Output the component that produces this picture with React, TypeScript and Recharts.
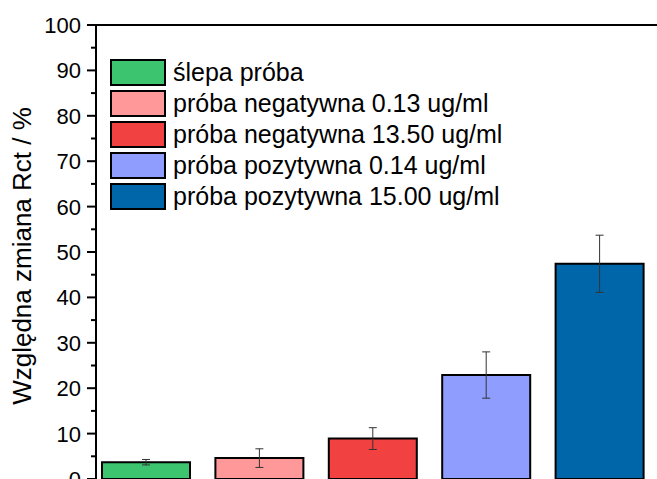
import React from 'react';
import { BarChart, Bar, XAxis, YAxis, Cell, ErrorBar, Legend, ReferenceLine, Label } from 'recharts';

const categories = [
  'ślepa próba',
  'próba negatywna 0.13 ug/ml',
  'próba negatywna 13.50 ug/ml',
  'próba pozytywna 0.14 ug/ml',
  'próba pozytywna 15.00 ug/ml',
];
const values = [3.7, 4.6, 8.9, 22.9, 47.4];
const errors = [0.6, 2.05, 2.4, 5.1, 6.3];
const colors = ['#3DC46F', '#FF9999', '#F24141', '#8F9DFF', '#0066AA'];
const yTicks = [0, 5, 10, 15, 20, 25, 30, 35, 40, 45, 50, 55, 60, 65, 70, 75, 80, 85, 90, 95, 100];
const yLabel = 'Względna zmiana Rct / %';

const FONT = '"Liberation Sans", Arial, sans-serif';
const AXIS_X = 96;

const data = categories.map((name, i) => ({ name, value: values[i], err: errors[i] }));

const YTick = (props: any) => {
  const { y, payload } = props;
  const v = payload.value;
  const major = v % 10 === 0;
  return (
    <g>
      <line x1={AXIS_X - (major ? 9 : 5)} x2={AXIS_X} y1={y} y2={y} stroke="#000" strokeWidth={2} />
      {major && (
        <text x={AXIS_X - 15} y={y} textAnchor="end" dy="0.36em" fontSize={22} fontFamily={FONT} fill="#000">
          {v}
        </text>
      )}
    </g>
  );
};

const YLabel = (props: any) => {
  const vb = props.viewBox || { x: 0, y: 25, width: 96, height: 454 };
  const cx = vb.x + 31;
  const cy = vb.y + vb.height / 2 + 4;
  return (
    <text
      transform={`translate(${cx},${cy}) rotate(-90)`}
      textAnchor="middle"
      fontSize={26}
      fontFamily={FONT}
      fill="#000"
    >
      {yLabel}
    </text>
  );
};

const LegendBox = () => (
  <div style={{ fontFamily: FONT, fontSize: 25, color: '#000' }}>
    {categories.map((c, i) => (
      <div key={c} style={{ display: 'flex', alignItems: 'center', height: 31 }}>
        <span
          style={{
            width: 56,
            height: 27,
            boxSizing: 'border-box',
            background: colors[i],
            border: '2px solid #000',
            display: 'inline-block',
          }}
        />
        <span style={{ marginLeft: 7, whiteSpace: 'nowrap', lineHeight: '31px' }}>{c}</span>
      </div>
    ))}
  </div>
);

export default function App() {
  return (
    <div style={{ position: 'absolute', left: 0, top: 0, background: '#fff' }}>
      <BarChart width={657} height={479} data={data} margin={{ top: 25, right: 0, bottom: 0, left: 0 }}>
        <XAxis
          dataKey="name"
          tick={false}
          tickLine={false}
          height={0}
          axisLine={{ stroke: '#000', strokeWidth: 2 }}
          padding={{ left: -7, right: 1 }}
        />
        <YAxis
          width={96}
          domain={[0, 100]}
          ticks={yTicks}
          interval={0}
          tickLine={false}
          tick={<YTick />}
          axisLine={{ stroke: '#000', strokeWidth: 2 }}
        >
          <Label content={<YLabel />} />
        </YAxis>
        <ReferenceLine y={100} stroke="#000" strokeWidth={2} />
        <Legend
          layout="vertical"
          align="center"
          verticalAlign="middle"
          content={<LegendBox />}
          wrapperStyle={{ top: 57, left: 110, width: 'auto', height: 'auto' }}
        />
        <Bar dataKey="value" barSize={88} stroke="#000" strokeWidth={2} isAnimationActive={false}>
          {data.map((d, i) => (
            <Cell key={d.name} fill={colors[i]} />
          ))}
          <ErrorBar dataKey="err" width={4} stroke="#333" strokeWidth={1} isAnimationActive={false} />
        </Bar>
      </BarChart>
    </div>
  );
}
